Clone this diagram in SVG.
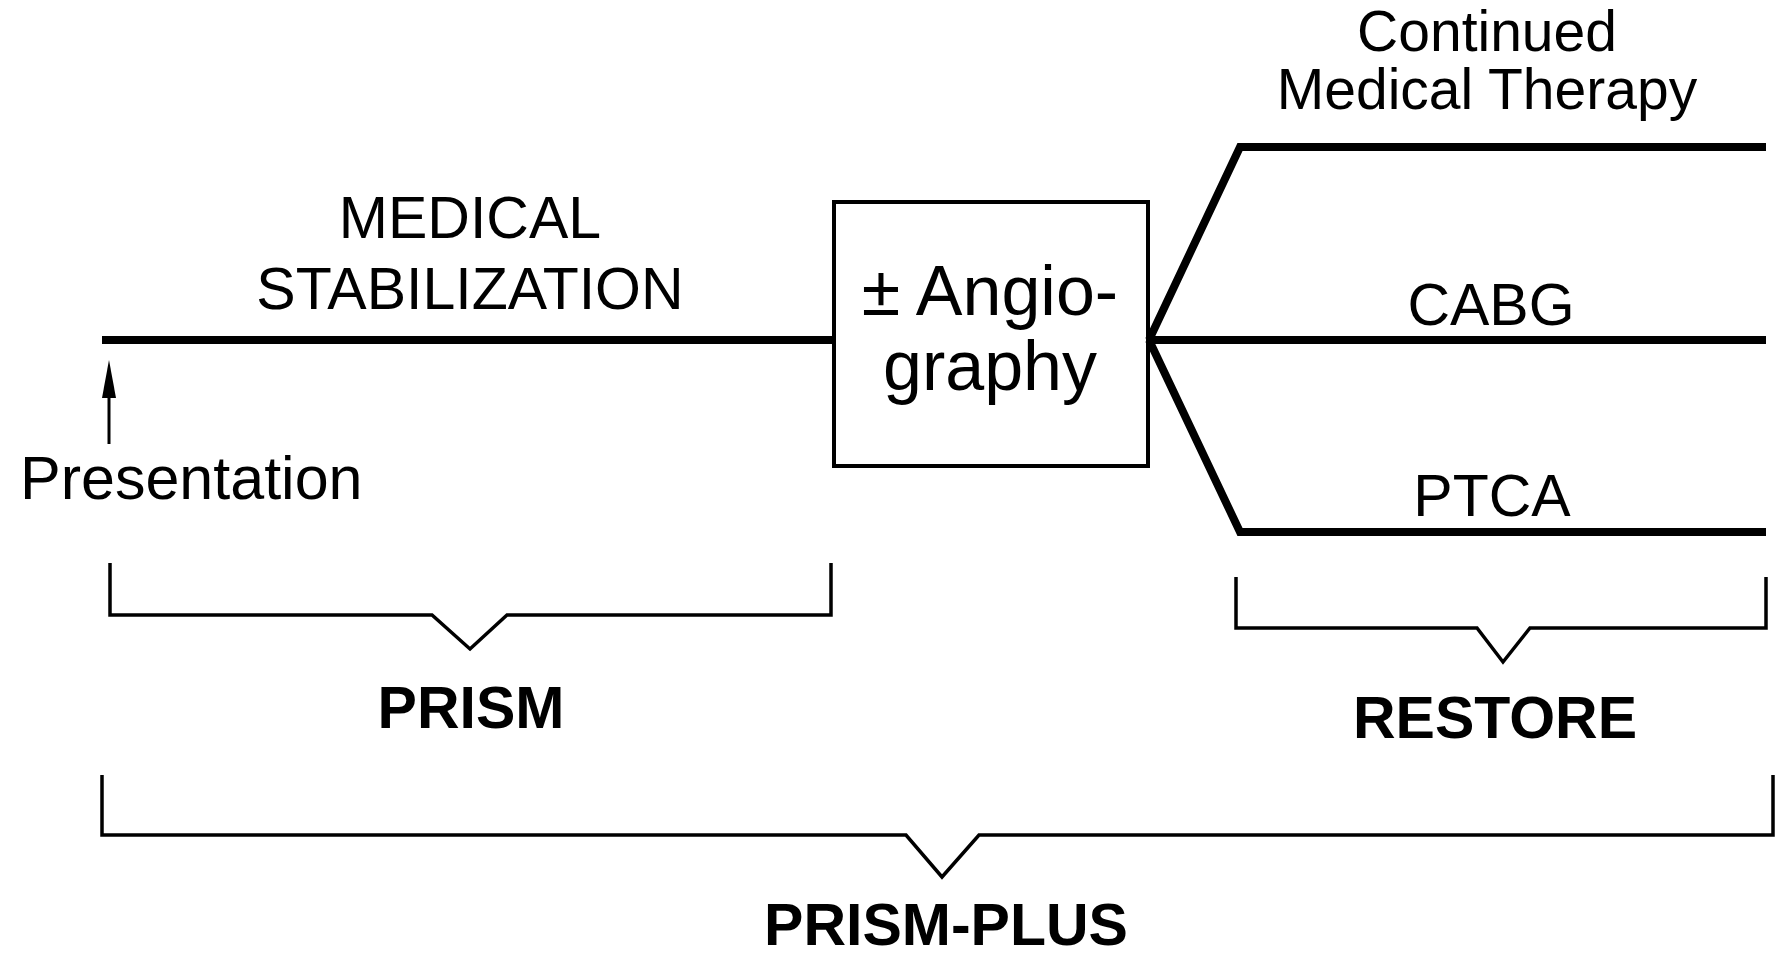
<svg xmlns="http://www.w3.org/2000/svg" width="1775" height="961" viewBox="0 0 1775 961">
<defs>
<style>
.t{font-family:"Liberation Sans",Arial,Helvetica,sans-serif;font-size:59px;fill:#000;text-anchor:middle}
.b{font-weight:bold}
.thick{fill:none;stroke:#000;stroke-width:8;stroke-linejoin:miter}
.brk{fill:none;stroke:#000;stroke-width:3.5;stroke-linejoin:miter}
</style>
</defs>
<rect width="1775" height="961" fill="#fff"/>
<g id="connectors">
<line class="thick" x1="102" y1="340" x2="833" y2="340"/>
<polyline class="thick" points="1149,340 1240,147 1766,147"/>
<line class="thick" x1="1149" y1="340" x2="1766" y2="340"/>
<polyline class="thick" points="1149,340 1240,532 1766,532"/>
<line x1="109" y1="444" x2="109" y2="392" stroke="#000" stroke-width="3"/>
<polygon points="109,360 102,398 116,398" fill="#000"/>
</g>
<g id="medical-stabilization">
<text class="t" x="470" y="238">MEDICAL</text>
<text class="t" x="470" y="309">STABILIZATION</text>
</g>
<g id="presentation">
<text class="t" x="20" y="499" style="text-anchor:start;font-size:61px">Presentation</text>
</g>
<g id="angiography">
<rect x="834" y="202" width="314" height="264" fill="none" stroke="#000" stroke-width="4"/>
<text class="t" x="990" y="315" style="font-size:70px">± Angio-</text>
<text class="t" x="990" y="390" style="font-size:70px">graphy</text>
</g>
<g id="continued">
<text class="t" x="1487" y="51" style="font-size:57px">Continued</text>
<text class="t" x="1487" y="109" style="font-size:57px">Medical Therapy</text>
</g>
<g id="cabg"><text class="t" x="1491" y="325">CABG</text></g>
<g id="ptca"><text class="t" x="1492" y="516">PTCA</text></g>
<g id="prism">
<polyline class="brk" points="110,563 110,615 432,615 470,649 507,615 831,615 831,563"/>
<text class="t b" x="471" y="728">PRISM</text>
</g>
<g id="restore">
<polyline class="brk" points="1236,577 1236,628 1477,628 1503,662 1530,628 1766,628 1766,577"/>
<text class="t b" x="1495" y="738">RESTORE</text>
</g>
<g id="prism-plus">
<polyline class="brk" points="102,775 102,835 906,835 942,877 979,835 1773,835 1773,775"/>
<text class="t b" x="946" y="945">PRISM-PLUS</text>
</g>
</svg>
